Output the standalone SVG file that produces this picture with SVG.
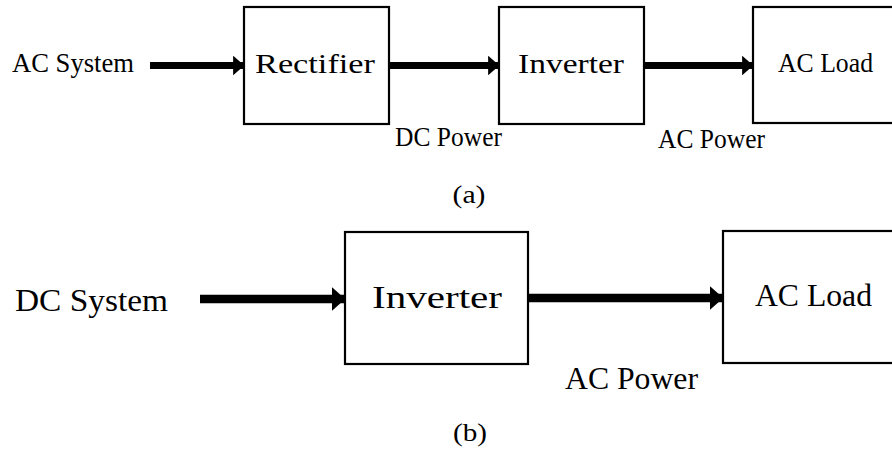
<svg xmlns="http://www.w3.org/2000/svg" width="892" height="459" viewBox="0 0 892 459">
<style>
.box{fill:#fff;stroke:#000;stroke-width:2.2}
.t{font-family:"Liberation Serif","Times New Roman",serif;fill:#000}
.ta{font-size:27px}
.tb{font-size:32px}
.cap{font-family:"Liberation Serif","Times New Roman",serif;font-size:25px;fill:#000}
.ln{stroke:#000;fill:none}
</style>
<defs>
<marker id="ah" markerWidth="1.6" markerHeight="2.8" refX="1.55" refY="1.4" orient="auto" markerUnits="strokeWidth" viewBox="0 0 1.6 2.8">
<path d="M0,0 L1.6,1.4 L0,2.8 Z" fill="#000"/>
</marker>
</defs>
<g id="connectors">
<line class="ln" x1="150" y1="65.5" x2="244" y2="65.5" stroke-width="7" marker-end="url(#ah)"/>
<line class="ln" x1="389" y1="65.5" x2="499" y2="65.5" stroke-width="7" marker-end="url(#ah)"/>
<line class="ln" x1="644" y1="65.5" x2="753" y2="65.5" stroke-width="7" marker-end="url(#ah)"/>
<line class="ln" x1="200" y1="299" x2="345" y2="299" stroke-width="8.5" marker-end="url(#ah)"/>
<line class="ln" x1="528" y1="298" x2="723" y2="298" stroke-width="8.5" marker-end="url(#ah)"/>
</g>
<g id="ac-system-a"><text class="t ta" x="12" y="72" textLength="122" lengthAdjust="spacingAndGlyphs">AC System</text></g>
<g id="rectifier"><rect class="box" x="244" y="7" width="145" height="117"/><text class="t ta" x="255" y="73" textLength="120" lengthAdjust="spacingAndGlyphs">Rectifier</text></g>
<g id="inverter-a"><rect class="box" x="499" y="7" width="145" height="117"/><text class="t ta" x="518" y="73" textLength="106" lengthAdjust="spacingAndGlyphs">Inverter</text></g>
<g id="acload-a"><rect class="box" x="753" y="7" width="150" height="116"/><text class="t ta" x="778" y="72" textLength="95" lengthAdjust="spacingAndGlyphs">AC Load</text></g>
<g id="dcpower-a"><text class="t ta" x="395" y="146" textLength="107" lengthAdjust="spacingAndGlyphs">DC Power</text></g>
<g id="acpower-a"><text class="t ta" x="658" y="148" textLength="107" lengthAdjust="spacingAndGlyphs">AC Power</text></g>
<text class="cap" x="469" y="203" text-anchor="middle" textLength="33" lengthAdjust="spacingAndGlyphs">(a)</text>
<g id="dc-system-b"><text class="t tb" x="15" y="311" textLength="153" lengthAdjust="spacingAndGlyphs">DC System</text></g>
<g id="inverter-b"><rect class="box" x="345" y="232" width="183" height="132"/><text class="t tb" x="372" y="308" textLength="130" lengthAdjust="spacingAndGlyphs">Inverter</text></g>
<g id="acload-b"><rect class="box" x="723" y="231" width="180" height="132"/><text class="t tb" x="755" y="306" textLength="117" lengthAdjust="spacingAndGlyphs">AC Load</text></g>
<g id="acpower-b"><text class="t tb" x="565" y="389" textLength="133" lengthAdjust="spacingAndGlyphs">AC Power</text></g>
<text class="cap" x="470" y="441" text-anchor="middle" textLength="34" lengthAdjust="spacingAndGlyphs">(b)</text>
</svg>
